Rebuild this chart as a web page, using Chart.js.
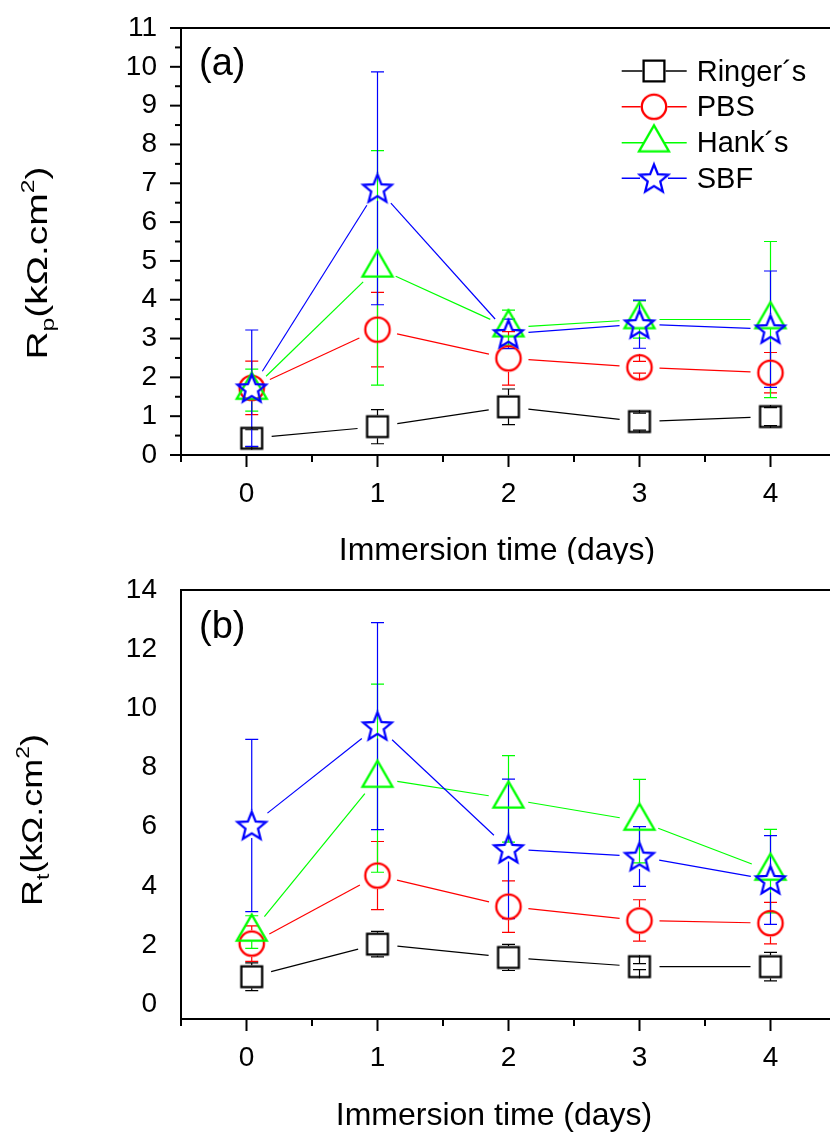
<!DOCTYPE html>
<html><head><meta charset="utf-8">
<script src="https://cdn.jsdelivr.net/npm/chart.js@4.4.1/dist/chart.umd.min.js"></script>
<style>
html,body{margin:0;padding:0;background:#fff;overflow:hidden;width:830px;height:1133px;position:relative;}
canvas{position:absolute;left:0;}
#c1{top:0px}
#c2{top:564px}
</style></head><body>
<canvas id="c1" width="860" height="564"></canvas>
<canvas id="c2" width="860" height="569"></canvas>
<script>
// ---------- data ----------
const days = [0.04, 1, 2, 3, 4];
const xTickLabels = [0, 1, 2, 3, 4];
const seriesNames = ['Ringer\u00b4s', 'PBS', 'Hank\u00b4s', 'SBF'];
const seriesColors = ['#000000', '#ff0000', '#00ff00', '#0000ff'];
const seriesMarkers = ['square', 'circle', 'triangle', 'star'];

// (a) Rp
const rpRinger = [0.43, 0.73, 1.24, 0.86, 0.99];
const rpRingerErr = [0.22, 0.44, 0.46, 0.22, 0.23];
const rpPBS = [1.73, 3.23, 2.49, 2.26, 2.12];
const rpPBSErr = [0.69, 0.96, 0.69, 0.15, 0.52];
const rpHank = [1.67, 4.82, 3.28, 3.49, 3.49];
const rpHankErr = [0.54, 3.02, 0.45, 0.48, 2.01];
const rpSBF = [1.72, 6.87, 3.12, 3.37, 3.24];
const rpSBFErr = [1.50, 3.00, 0.38, 0.62, 1.50];
const rpTickLabels = [0, 1, 2, 3, 4, 5, 6, 7, 8, 9, 10, 11];

// (b) Rt
const rtRinger = [0.93, 2.03, 1.58, 1.27, 1.27];
const rtRingerErr = [0.47, 0.43, 0.44, 0.10, 0.48];
const rtPBS = [2.05, 4.35, 3.30, 2.83, 2.74];
const rtPBSErr = [0.60, 1.15, 0.87, 0.70, 0.70];
const rtHank = [2.44, 7.64, 6.94, 6.19, 4.50];
const rtHankErr = [0.55, 3.18, 1.46, 1.41, 1.41];
const rtSBF = [6.04, 9.40, 5.25, 4.99, 4.20];
const rtSBFErr = [2.91, 3.50, 2.36, 1.01, 1.50];
const rtTickLabels = [0, 2, 4, 6, 8, 10, 12, 14];

// ---------- styling ----------
const FONT = "'Liberation Sans', Arial, Helvetica, sans-serif";
const GAP = 20;
const markerUp = {square: 11.5, circle: 13.3, triangle: 18.3, star: 15.3};
const markerDown = {square: 11.5, circle: 13.3, triangle: 9.2, star: 12.5};
const legendGap = {square: 11.5, circle: 13.3, triangle: 10, star: 14};

function makeMarker(kind, color) {
  const S = 40;
  const c = document.createElement('canvas');
  c.width = S; c.height = S;
  const g = c.getContext('2d');
  g.strokeStyle = color; g.lineWidth = 2.3; g.lineJoin = 'miter';
  const cx = S / 2, cy = S / 2;
  g.beginPath();
  if (kind === 'square') {
    g.rect(cx - 10.4, cy - 10.4, 20.8, 20.8);
  } else if (kind === 'circle') {
    g.arc(cx, cy, 12.2, 0, Math.PI * 2);
  } else if (kind === 'triangle') {
    const h = 26.0, w = 30.0;
    g.moveTo(cx, cy - 2 * h / 3);
    g.lineTo(cx + w / 2, cy + h / 3);
    g.lineTo(cx - w / 2, cy + h / 3);
    g.closePath();
  } else {
    const R = 15, r = 6.6;
    for (let k = 0; k < 10; k++) {
      const a = -Math.PI / 2 + k * Math.PI / 5;
      const rad = (k % 2) ? r : R;
      const px = cx + rad * Math.cos(a), py = cy + 1.2 + rad * Math.sin(a);
      if (k === 0) g.moveTo(px, py); else g.lineTo(px, py);
    }
    g.closePath();
  }
  g.stroke();
  return c;
}
const markerImgs = seriesMarkers.map((m, i) => makeMarker(m, seriesColors[i]));

function drawText(ctx, text, x, y, size, align) {
  ctx.font = size + 'px ' + FONT;
  ctx.textAlign = align || 'left';
  ctx.textBaseline = 'alphabetic';
  ctx.fillStyle = '#000';
  ctx.fillText(text, x, y);
}

const panelPlugin = {
  id: 'panel',
  beforeDatasetsDraw(chart) {
    const ctx = chart.ctx, ys = chart.scales.y;
    const area = chart.chartArea;
    ctx.save();
    ctx.beginPath();
    ctx.rect(area.left, area.top, area.right - area.left, area.bottom - area.top);
    ctx.clip();
    chart.data.datasets.forEach((ds, i) => {
      const pts = chart.getDatasetMeta(i).data;
      const kind = ds.markerKind;
      ctx.strokeStyle = ds.borderColor;
      ctx.lineWidth = 1.2;
      for (let j = 0; j < pts.length - 1; j++) {
        const a = pts[j], b = pts[j + 1];
        const dx = b.x - a.x, dy = b.y - a.y, d = Math.hypot(dx, dy);
        if (d <= 2 * GAP) continue;
        const ux = dx / d, uy = dy / d;
        ctx.beginPath();
        ctx.moveTo(a.x + ux * GAP, a.y + uy * GAP);
        ctx.lineTo(b.x - ux * GAP, b.y - uy * GAP);
        ctx.stroke();
      }
      ds.errors.forEach((e, j) => {
        const v = ds.data[j].y, p = pts[j];
        const yt = ys.getPixelForValue(v + e), yb = ys.getPixelForValue(v - e);
        ctx.beginPath();
        ctx.moveTo(p.x, p.y - markerUp[kind]); ctx.lineTo(p.x, yt);
        ctx.moveTo(p.x, p.y + markerDown[kind]); ctx.lineTo(p.x, yb);
        ctx.moveTo(p.x - 6.5, yt); ctx.lineTo(p.x + 6.5, yt);
        ctx.moveTo(p.x - 6.5, yb); ctx.lineTo(p.x + 6.5, yb);
        ctx.stroke();
      });
    });
    ctx.restore();
  },
  afterDraw(chart) {
    const ctx = chart.ctx, o = chart.options.plugins.panel;
    const xs = chart.scales.x, ys = chart.scales.y, area = chart.chartArea;
    ctx.save();
    ctx.strokeStyle = '#000';
    ctx.lineWidth = 2;
    ctx.lineCap = 'butt';
    ctx.beginPath();
    ctx.moveTo(area.left - 1, area.top); ctx.lineTo(area.right, area.top);
    ctx.stroke();
    for (let v = ys.min; v <= ys.max + 1e-9; v += o.yMinorStep) {
      const isMajor = o.yMajor.some(m => Math.abs(m - v) < 1e-6);
      const onGrid = Math.abs(v - Math.round(v / o.yMinorStep) * o.yMinorStep) < 1e-6;
      if (!isMajor && !onGrid) continue;
      const py = ys.getPixelForValue(v);
      const len = isMajor ? 11 : 6;
      ctx.beginPath(); ctx.moveTo(area.left, py); ctx.lineTo(area.left - len, py); ctx.stroke();
    }
    for (let v = -0.5; v <= 4.5 + 1e-9; v += 0.5) {
      const isMajor = Math.abs(v - Math.round(v)) < 1e-6;
      const px = xs.getPixelForValue(v);
      const len = isMajor ? 12 : 7;
      ctx.beginPath(); ctx.moveTo(px, area.bottom); ctx.lineTo(px, area.bottom + len); ctx.stroke();
    }
    drawText(ctx, 'Immersion time (days)', o.xTitleX, o.xTitleBase, 32, 'center');
    ctx.translate(o.yTitleX, o.yTitleY);
    ctx.rotate(-Math.PI / 2);
    const pieces = [
      {t: 'R', s: 30, dy: 0},
      {t: o.ySub, s: 19, dy: 7},
      {t: '(k\u03A9.cm', s: 30, dy: 0},
      {t: '2', s: 19, dy: -13},
      {t: ')', s: 30, dy: 0}
    ];
    let total = 0;
    pieces.forEach(p => { ctx.font = p.s + 'px ' + FONT; p.w = ctx.measureText(p.t).width; total += p.w; });
    ctx.scale(o.yTitleStretch, 1);
    let cx = -total / 2;
    pieces.forEach(p => { drawText(ctx, p.t, cx, p.dy, p.s, 'left'); cx += p.w; });
    ctx.restore();
    ctx.save();
    drawText(ctx, o.label, 199, o.labelBase, 38, 'left');
    if (o.legend) {
      const rows = [71, 106.7, 142.7, 178.3];
      seriesNames.forEach((name, i) => {
        const y = rows[i], mx = 654, g = legendGap[seriesMarkers[i]];
        ctx.strokeStyle = seriesColors[i]; ctx.lineWidth = 1.4;
        ctx.beginPath();
        ctx.moveTo(621.7, y); ctx.lineTo(mx - g, y);
        ctx.moveTo(mx + g, y); ctx.lineTo(686.7, y);
        ctx.stroke();
        const img = markerImgs[i];
        ctx.drawImage(img, mx - img.width / 2, y - img.height / 2);
        drawText(ctx, name, 696.7, y + 9.7, 29, 'left');
      });
    }
    ctx.restore();
  }
};

function zeroPad(s) { s.paddingTop = 0; s.paddingBottom = 0; s.paddingLeft = 0; s.paddingRight = 0; }

function makePanel(id, vals, errs, yMin, yMax, yMajor, opts) {
  const canvas = document.getElementById(id);
  const H = canvas.height;
  const datasets = vals.map((arr, i) => ({
    label: seriesNames[i],
    data: days.map((d, j) => ({x: d, y: arr[j]})),
    errors: errs[i],
    markerKind: seriesMarkers[i],
    borderColor: seriesColors[i],
    backgroundColor: 'rgba(0,0,0,0)',
    showLine: false,
    pointStyle: markerImgs[i],
    pointRadius: 10,
    order: 4 - i
  }));
  return new Chart(canvas, {
    type: 'line',
    data: {datasets},
    plugins: [panelPlugin],
    options: {
      responsive: false,
      animation: false,
      devicePixelRatio: 1,
      events: [],
      layout: {padding: {top: opts.top, right: canvas.width - 836, left: 0, bottom: 0}},
      plugins: {
        legend: {display: false},
        tooltip: {enabled: false},
        panel: opts
      },
      scales: {
        x: {
          type: 'linear', min: -0.5, max: 4.5,
          afterBuildTicks: s => { s.ticks = xTickLabels.map(v => ({value: v})); },
          afterFit: s => { s.height = H - 455; zeroPad(s); },
          grid: {display: false, drawTicks: false},
          border: {display: true, color: '#000', width: 2},
          ticks: {font: {size: 28, family: FONT}, color: '#000', padding: 22, maxRotation: 0, autoSkip: false}
        },
        y: {
          type: 'linear', min: yMin, max: yMax,
          afterBuildTicks: s => { s.ticks = yMajor.map(v => ({value: v})); },
          afterFit: s => { s.width = 181; zeroPad(s); },
          grid: {display: false, drawTicks: false},
          border: {display: true, color: '#000', width: 2},
          ticks: {font: {size: 28, family: FONT}, color: '#000', padding: 24, autoSkip: false}
        }
      }
    }
  });
}

makePanel('c1',
  [rpRinger, rpPBS, rpHank, rpSBF],
  [rpRingerErr, rpPBSErr, rpHankErr, rpSBFErr],
  0, 11, rpTickLabels,
  {top: 28, yMajor: rpTickLabels, yMinorStep: 0.5, label: '(a)', labelBase: 75,
   legend: true, xTitleX: 497, xTitleBase: 559.5, yTitleX: 47, yTitleY: 263, ySub: 'p', yTitleStretch: 1.3});

makePanel('c2',
  [rtRinger, rtPBS, rtHank, rtSBF],
  [rtRingerErr, rtPBSErr, rtHankErr, rtSBFErr],
  -0.5, 14, rtTickLabels,
  {top: 26, yMajor: rtTickLabels, yMinorStep: 1, label: '(b)', labelBase: 74,
   legend: false, xTitleX: 494, xTitleBase: 561, yTitleX: 42, yTitleY: 256, ySub: 't', yTitleStretch: 1.2});
</script>
</body></html>
